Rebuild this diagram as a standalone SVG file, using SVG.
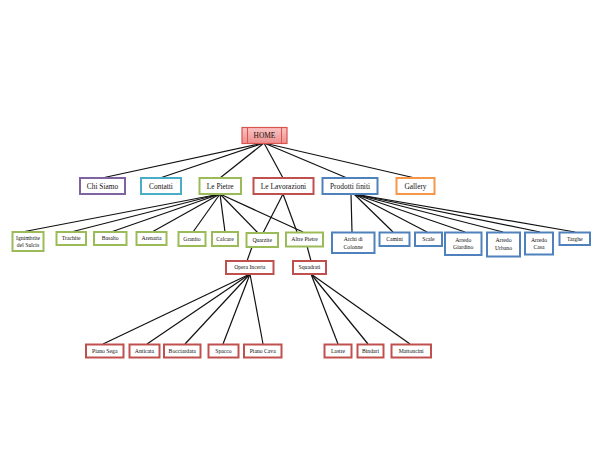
<svg xmlns="http://www.w3.org/2000/svg" width="607" height="458" viewBox="0 0 607 458">
<defs>
<linearGradient id="hg" x1="0" y1="0" x2="0" y2="1">
<stop offset="0" stop-color="#f9c4c3"/>
<stop offset="1" stop-color="#ee8f8d"/>
</linearGradient>
</defs>
<style>
rect{fill:#fff;stroke-width:2}
text{font-family:"Liberation Serif","Times New Roman",serif;fill:#111;text-anchor:middle}
.l1{font-size:7.4px}
.l2{font-size:5.7px}
.p{stroke:#8064a2}.t{stroke:#4bacc6}.g{stroke:#9bbb59}.r{stroke:#c0504d}.b{stroke:#4f81bd}.o{stroke:#f79646}
#connectors line{stroke:#111;stroke-width:1.2}
</style>
<rect width="607" height="458" style="fill:#fff;stroke:none"/>
<g id="connectors">
<line x1="264" y1="143" x2="102" y2="178"/>
<line x1="264" y1="143" x2="160" y2="178"/>
<line x1="264" y1="143" x2="220" y2="178"/>
<line x1="264" y1="143" x2="283" y2="178"/>
<line x1="264" y1="143" x2="347" y2="178"/>
<line x1="264" y1="143" x2="415" y2="178"/>
<line x1="220" y1="194" x2="22" y2="232"/>
<line x1="220" y1="194" x2="71" y2="232"/>
<line x1="220" y1="194" x2="111" y2="232"/>
<line x1="220" y1="194" x2="152" y2="232"/>
<line x1="220" y1="194" x2="193" y2="232"/>
<line x1="220" y1="194" x2="225" y2="232"/>
<line x1="220" y1="194" x2="258" y2="233"/>
<line x1="220" y1="194" x2="303" y2="232"/>
<line x1="283" y1="194" x2="263" y2="233"/>
<line x1="283" y1="194" x2="297" y2="232"/>
<line x1="351" y1="194" x2="352" y2="232"/>
<line x1="354" y1="194" x2="393" y2="232"/>
<line x1="354" y1="194" x2="427" y2="232"/>
<line x1="354" y1="194" x2="465" y2="232"/>
<line x1="354" y1="194" x2="503" y2="232"/>
<line x1="354" y1="194" x2="540" y2="232"/>
<line x1="354" y1="194" x2="575" y2="232"/>
<line x1="252" y1="247" x2="247" y2="261"/>
<line x1="307" y1="246" x2="311" y2="261"/>
<line x1="250" y1="274" x2="103" y2="344"/>
<line x1="250" y1="274" x2="147" y2="344"/>
<line x1="250" y1="274" x2="185" y2="344"/>
<line x1="250" y1="274" x2="223" y2="344"/>
<line x1="250" y1="274" x2="263" y2="344"/>
<line x1="311" y1="274" x2="338" y2="344"/>
<line x1="311" y1="274" x2="368" y2="344"/>
<line x1="311" y1="274" x2="410" y2="344"/>
</g>
<g id="home">
<rect x="242" y="127.5" width="45" height="16" style="fill:url(#hg);stroke:#d9534f;stroke-width:1.2"/>
<line x1="247.5" y1="127.5" x2="247.5" y2="143.5" stroke="#d9534f" stroke-width="1"/>
<line x1="281.5" y1="127.5" x2="281.5" y2="143.5" stroke="#d9534f" stroke-width="1"/>
<text class="l1" x="264.5" y="138">HOME</text>
</g>
<g id="chi-siamo"><rect class="p" x="80" y="178" width="45" height="16"/><text class="l1" x="102.5" y="188.5">Chi Siamo</text></g>
<g id="contatti"><rect class="t" x="141" y="178" width="40" height="16"/><text class="l1" x="161" y="188.5">Contatti</text></g>
<g id="le-pietre"><rect class="g" x="199.5" y="178" width="41.5" height="16"/><text class="l1" x="220.2" y="188.5">Le Pietre</text></g>
<g id="le-lavorazioni"><rect class="r" x="253.5" y="178" width="60" height="16"/><text class="l1" x="283.5" y="188.5">Le Lavorazioni</text></g>
<g id="prodotti-finiti"><rect class="b" x="322.5" y="178" width="55" height="16"/><text class="l1" x="350" y="188.5">Prodotti finiti</text></g>
<g id="gallery"><rect class="o" x="396.5" y="178" width="38" height="16"/><text class="l1" x="415.5" y="188.5">Gallery</text></g>
<g id="ignimbrite"><rect class="g" x="12.5" y="232" width="31" height="19"/><text class="l2" x="28" y="240">Ignimbrite</text><text class="l2" x="28" y="247">del Sulcis</text></g>
<g id="trachite"><rect class="g" x="56.5" y="232" width="29.5" height="13"/><text class="l2" x="71.2" y="240.3">Trachite</text></g>
<g id="basalto"><rect class="g" x="94" y="232" width="32.5" height="13"/><text class="l2" x="110.2" y="240.3">Basalto</text></g>
<g id="arenaria"><rect class="g" x="136.5" y="232" width="30" height="13"/><text class="l2" x="151.5" y="240.3">Arenaria</text></g>
<g id="granito"><rect class="g" x="178.5" y="232" width="27" height="14"/><text class="l2" x="192" y="240.8">Granito</text></g>
<g id="calcare"><rect class="g" x="212" y="232" width="26" height="14"/><text class="l2" x="225" y="240.8">Calcare</text></g>
<g id="quarzite"><rect class="g" x="246.5" y="233" width="31.5" height="14"/><text class="l2" x="262.2" y="241.8">Quarzite</text></g>
<g id="altre-pietre"><rect class="g" x="286" y="232.5" width="37" height="14"/><text class="l2" x="304.5" y="241.3">Altre Pietre</text></g>
<g id="archi-di-colonne"><rect class="b" x="332" y="232.5" width="42.5" height="20.5"/><text class="l2" x="353.2" y="241">Archi di</text><text class="l2" x="353.2" y="248.5">Colonne</text></g>
<g id="camini"><rect class="b" x="379.5" y="232.5" width="30" height="13.5"/><text class="l2" x="394.5" y="241">Camini</text></g>
<g id="scale"><rect class="b" x="415" y="232.5" width="27" height="13.5"/><text class="l2" x="428.5" y="241">Scale</text></g>
<g id="arredo-giardino"><rect class="b" x="445" y="232.5" width="36.5" height="22.5"/><text class="l2" x="463.2" y="241.5">Arredo</text><text class="l2" x="463.2" y="249">Giardino</text></g>
<g id="arredo-urbano"><rect class="b" x="487" y="232.5" width="33" height="24"/><text class="l2" x="503.5" y="242">Arredo</text><text class="l2" x="503.5" y="249.5">Urbano</text></g>
<g id="arredo-casa"><rect class="b" x="525" y="232.5" width="28" height="22"/><text class="l2" x="539" y="241.5">Arredo</text><text class="l2" x="539" y="249">Casa</text></g>
<g id="targhe"><rect class="b" x="559.5" y="232.5" width="30.5" height="12.5"/><text class="l2" x="574.7" y="240.5">Targhe</text></g>
<g id="opera-incerta"><rect class="r" x="226" y="261" width="47.5" height="13"/><text class="l2" x="249.7" y="269.3">Opera Incerta</text></g>
<g id="squadrati"><rect class="r" x="293" y="261" width="33" height="13"/><text class="l2" x="309.5" y="269.3">Squadrati</text></g>
<g id="piano-sega"><rect class="r" x="86" y="344.5" width="37.5" height="13"/><text class="l2" x="104.7" y="352.8">Piano Sega</text></g>
<g id="anticata"><rect class="r" x="129.5" y="344.5" width="30" height="13"/><text class="l2" x="144.5" y="352.8">Anticata</text></g>
<g id="bocciardata"><rect class="r" x="164" y="344.5" width="36.5" height="13"/><text class="l2" x="182.2" y="352.8">Bocciardata</text></g>
<g id="spacco"><rect class="r" x="208.5" y="344.5" width="30" height="13"/><text class="l2" x="223.5" y="352.8">Spacco</text></g>
<g id="piano-cava"><rect class="r" x="244" y="344.5" width="37.5" height="13"/><text class="l2" x="262.7" y="352.8">Piano Cava</text></g>
<g id="lastre"><rect class="r" x="324.5" y="344.5" width="27" height="13"/><text class="l2" x="338" y="352.8">Lastre</text></g>
<g id="bindari"><rect class="r" x="357.5" y="344.5" width="26" height="13"/><text class="l2" x="370.5" y="352.8">Bindari</text></g>
<g id="mattoncini"><rect class="r" x="391.5" y="344.5" width="39.5" height="13"/><text class="l2" x="411.2" y="352.8">Mattoncini</text></g>
</svg>
